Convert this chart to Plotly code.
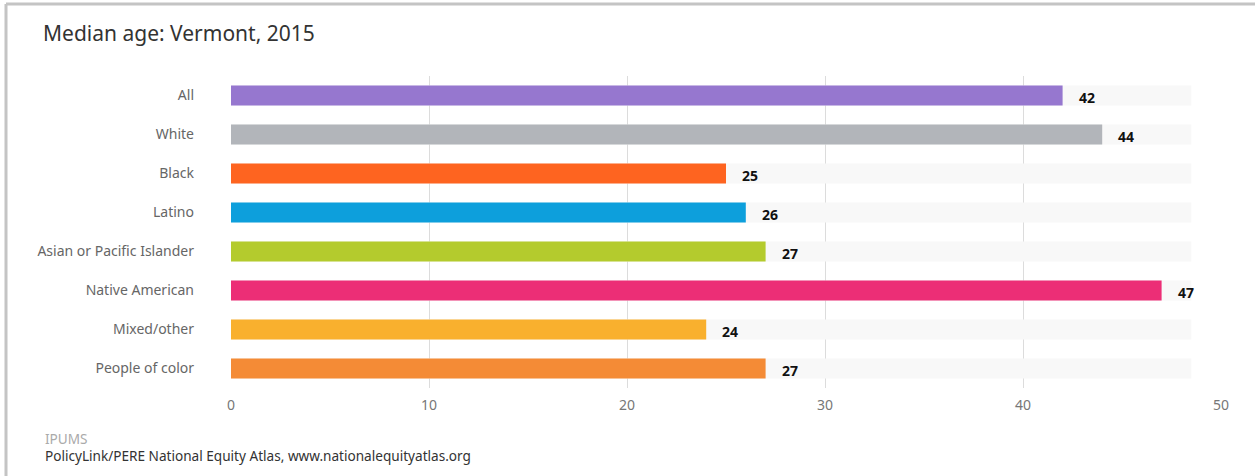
import plotly.graph_objects as go

categories = ["All", "White", "Black", "Latino", "Asian or Pacific Islander",
              "Native American", "Mixed/other", "People of color"]
values = [42, 44, 25, 26, 27, 47, 24, 27]
colors = ["#9677cf", "#b2b5ba", "#fe6420", "#0d9fdc", "#b4cb2d",
          "#ec2e76", "#f9b02e", "#f48b36"]
track_max = 48.5
x_ticks = [0, 10, 20, 30, 40, 50]

PL, PW, PT, PH = 231, 990, 76, 312

def px_x(x):
    return (x - PL) / PW

def px_y(y):
    return 1 - (y - PT) / PH

fig = go.Figure()
fig.add_trace(go.Bar(
    y=categories, x=[track_max] * len(categories), orientation="h",
    marker=dict(color="#f8f8f8", line=dict(width=0)), hoverinfo="skip",
    showlegend=False))
fig.add_trace(go.Bar(
    y=categories, x=values, orientation="h",
    marker=dict(color=colors, line=dict(width=0)), showlegend=False))

for c, v in zip(categories, values):
    fig.add_annotation(x=v, y=c, text=f"<b>{v}</b>", showarrow=False,
                       xanchor="left", xshift=14, yshift=-2,
                       font=dict(family="Noto Sans", size=14, color="#111"))

fig.update_layout(
    width=1255, height=476,
    margin=dict(l=PL, r=1255 - PL - PW, t=PT, b=476 - PT - PH),
    paper_bgcolor="white", plot_bgcolor="white",
    barmode="overlay", bargap=0.49,
    font=dict(family="Noto Sans", color="#666"),
    title=dict(text="Median age: Vermont, 2015", x=43 / 1255, xanchor="left",
               y=1 - 34 / 476, yanchor="middle", xref="container", yref="container",
               font=dict(size=21, color="#333", family="Noto Sans")),
    xaxis=dict(range=[0, 50], tickvals=x_ticks, showgrid=True, gridcolor="#dcdcdc",
               gridwidth=1, zeroline=False, showline=False, ticks="",
               tickfont=dict(size=14, color="#777"), ticklabelstandoff=7,
               fixedrange=True),
    yaxis=dict(categoryorder="array", categoryarray=categories,
               autorange="reversed", showgrid=False, zeroline=False, ticks="",
               tickfont=dict(size=14, color="#666"), ticklabelstandoff=36,
               fixedrange=True),
)

fig.add_annotation(xref="paper", yref="paper", x=px_x(43), y=px_y(438),
                   text="IPUMS", showarrow=False, xanchor="left", yanchor="middle",
                   font=dict(size=13.6, color="#aaa", family="Noto Sans"))
fig.add_annotation(xref="paper", yref="paper", x=px_x(43), y=px_y(456),
                   text="PolicyLink/PERE National Equity Atlas, www.nationalequityatlas.org",
                   showarrow=False, xanchor="left", yanchor="middle",
                   font=dict(size=13.6, color="#333", family="Noto Sans"))

# frame lines (top and left)
fig.add_shape(type="line", xref="paper", yref="paper",
              x0=px_x(6), x1=px_x(1260), y0=px_y(4), y1=px_y(4),
              line=dict(color="#c4c4c4", width=3))
fig.add_shape(type="line", xref="paper", yref="paper",
              x0=px_x(6), x1=px_x(6), y0=px_y(4), y1=px_y(480),
              line=dict(color="#c4c4c4", width=3))

fig.write_html("out.html")
